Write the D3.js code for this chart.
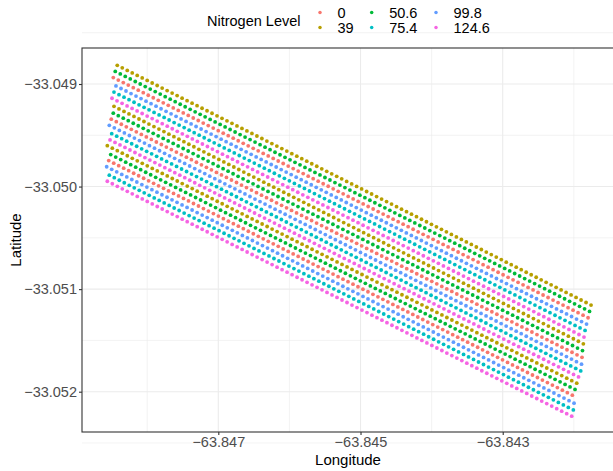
<!DOCTYPE html>
<html>
<head>
<meta charset="utf-8">
<script src="https://cdn.jsdelivr.net/npm/d3@7"></script>
<style>
  body { margin: 0; background: #fff; }
  svg { display: block; }
  text { font-family: "Liberation Sans", Arial, Helvetica, sans-serif; }
</style>
</head>
<body>
<svg id="chart" width="613" height="471"></svg>
<script>
// Nitrogen levels (kg/ha) and their legend colours
const levels = [0, 39, 50.6, 75.4, 99.8, 124.6];
const levelColors = ["#F8766D", "#B79F00", "#00BA38", "#00BFC4", "#619CFF", "#F564E3"];

// One planted row per entry: nitrogen level, first and last plot position, plots in the row
const rowLevel = [39, 50.6, 0, 99.8, 75.4, 124.6,
                  39, 50.6, 0, 99.8, 75.4, 124.6,
                  39, 50.6, 0, 99.8, 75.4, 124.6];
const rowStartLon = [-63.848421, -63.848449, -63.848477, -63.848439, -63.848467, -63.848495,
                     -63.848467, -63.848477, -63.848505, -63.848533, -63.848499, -63.848523,
                     -63.848561, -63.848513, -63.848541, -63.848570, -63.848533, -63.848561];
const rowStartLat = [-33.048818, -33.048877, -33.048937, -33.049019, -33.049079, -33.049139,
                     -33.049218, -33.049284, -33.049343, -33.049403, -33.049484, -33.049545,
                     -33.049601, -33.049688, -33.049747, -33.049807, -33.049889, -33.049948];
const rowEndLon = [-63.841758, -63.841779, -63.841800, -63.841821, -63.841842, -63.841857,
                   -63.841866, -63.841878, -63.841885, -63.841892, -63.841903, -63.841934,
                   -63.841959, -63.841983, -63.842021, -63.841997, -63.842007, -63.842030];
const rowEndLat = [-33.051155, -33.051217, -33.051279, -33.051341, -33.051403, -33.051467,
                   -33.051533, -33.051599, -33.051665, -33.051732, -33.051798, -33.051856,
                   -33.051917, -33.051978, -33.052034, -33.052112, -33.052178, -33.052239];
const rowPlots = [96, 96, 96, 95, 95, 95, 95, 95, 95, 95, 95, 95, 95, 94, 94, 94, 94, 94];

// Axis ticks
const xTicks = [-63.847, -63.845, -63.843];
const xMinor = [-63.848, -63.846, -63.844, -63.842];
const yTicks = [-33.049, -33.050, -33.051, -33.052];
const yMinor = [-33.0485, -33.0495, -33.0505, -33.0515, -33.0525];

// Plots sit at equal spacing along each row
const points = [];
rowLevel.forEach((lvl, r) => {
  const n = rowPlots[r];
  for (let i = 0; i < n; i++) {
    const t = i / (n - 1);
    points.push({
      level: lvl,
      lon: rowStartLon[r] + (rowEndLon[r] - rowStartLon[r]) * t,
      lat: rowStartLat[r] + (rowEndLat[r] - rowStartLat[r]) * t
    });
  }
});

const panel = { left: 82, right: 614, top: 48, bottom: 432 };
const svg = d3.select("#chart");

const x = d3.scaleLinear().domain([-63.848917, -63.841435]).range([panel.left, panel.right]);
const y = d3.scaleLinear().domain([-33.052393, -33.048649]).range([panel.bottom, panel.top]);
const color = d3.scaleOrdinal().domain(levels).range(levelColors);
const fmt = d3.format(".3f");

// Grid
const grid = svg.append("g");
grid.selectAll(".xm").data(xMinor).join("line")
  .attr("x1", d => x(d)).attr("x2", d => x(d))
  .attr("y1", panel.top).attr("y2", panel.bottom)
  .attr("stroke", "#ebebeb").attr("stroke-width", 0.6);
grid.selectAll(".ym").data(yMinor).join("line")
  .attr("y1", d => y(d)).attr("y2", d => y(d))
  .attr("x1", panel.left).attr("x2", panel.right)
  .attr("stroke", "#ebebeb").attr("stroke-width", 0.6);
grid.selectAll(".xM").data(xTicks).join("line")
  .attr("x1", d => x(d)).attr("x2", d => x(d))
  .attr("y1", panel.top).attr("y2", panel.bottom)
  .attr("stroke", "#ebebeb").attr("stroke-width", 1.1);
grid.selectAll(".yM").data(yTicks).join("line")
  .attr("y1", d => y(d)).attr("y2", d => y(d))
  .attr("x1", panel.left).attr("x2", panel.right)
  .attr("stroke", "#ebebeb").attr("stroke-width", 1.1);

// Plots
svg.append("g").selectAll("circle").data(points).join("circle")
  .attr("cx", d => x(d.lon))
  .attr("cy", d => y(d.lat))
  .attr("r", 1.9)
  .attr("fill", d => color(d.level));

// Panel border
svg.append("rect")
  .attr("x", panel.left).attr("y", panel.top)
  .attr("width", panel.right - panel.left).attr("height", panel.bottom - panel.top)
  .attr("fill", "none").attr("stroke", "#333333").attr("stroke-width", 1.1);

// Axes
const xAxis = svg.append("g").attr("transform", `translate(0,${panel.bottom})`)
  .call(d3.axisBottom(x).tickValues(xTicks).tickFormat(fmt).tickSize(3).tickPadding(2).tickSizeOuter(0));
const yAxis = svg.append("g").attr("transform", `translate(${panel.left},0)`)
  .call(d3.axisLeft(y).tickValues(yTicks).tickFormat(fmt).tickSize(3).tickPadding(2).tickSizeOuter(0));
[xAxis, yAxis].forEach(a => {
  a.select(".domain").remove();
  a.selectAll(".tick line").attr("stroke", "#333333").attr("stroke-width", 1.1);
  a.selectAll(".tick text").attr("fill", "#4d4d4d").attr("font-size", "14.5px")
    .attr("font-family", "\"Liberation Sans\", Arial, sans-serif");
});

// Axis titles
svg.append("text").attr("x", 348).attr("y", 465)
  .attr("text-anchor", "middle").attr("font-size", "15px").attr("fill", "#000")
  .text("Longitude");
svg.append("text").attr("transform", `translate(21,${(panel.top + panel.bottom) / 2}) rotate(-90)`)
  .attr("text-anchor", "middle").attr("font-size", "15px").attr("fill", "#000")
  .text("Latitude");

// Legend
const legend = svg.append("g");
legend.append("text").attr("x", 207).attr("y", 25.5)
  .attr("font-size", "14.5px").attr("fill", "#000").text("Nitrogen Level");
const colX = [320, 371.7, 436];
const rowY = [12.5, 27.5];
levels.forEach((lvl, i) => {
  const cx = colX[Math.floor(i / 2)];
  const cy = rowY[i % 2];
  legend.append("circle").attr("cx", cx).attr("cy", cy).attr("r", 1.75).attr("fill", color(lvl));
  legend.append("text").attr("x", cx + 17.5).attr("y", cy).attr("dy", "0.36em")
    .attr("font-size", "14.5px").attr("fill", "#000").text(String(lvl));
});
</script>
</body>
</html>
